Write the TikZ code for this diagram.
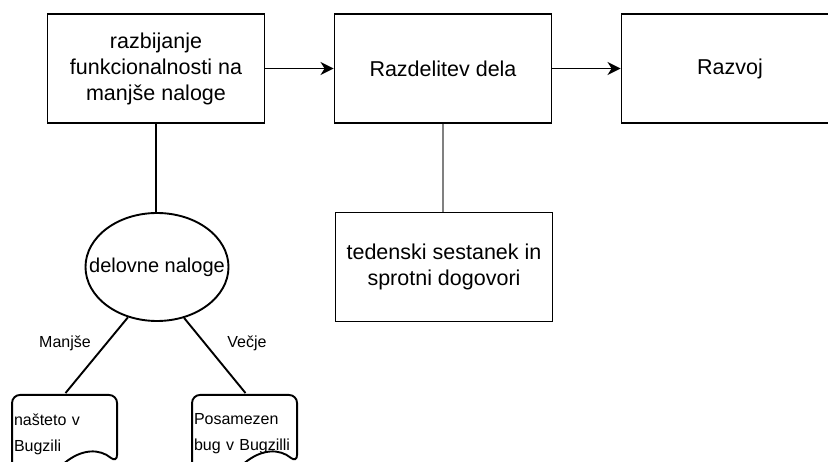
\documentclass[tikz,border=0pt]{standalone}
\usepackage{fontspec}
\setmainfont{Liberation Sans}
\usetikzlibrary{arrows.meta,shapes.geometric}
\begin{document}
\begin{tikzpicture}[x=1pt,y=-1pt,
  line width=1.9pt,
  box/.style={draw, rectangle, minimum width=217pt, minimum height=109pt,
    inner sep=2pt, align=center,
    font=\fontsize{21.5}{26}\selectfont},
  oval/.style={draw, ellipse, minimum width=143pt, minimum height=108pt,
    inner xsep=-22pt, inner ysep=0pt, font=\fontsize{20}{24}\selectfont},
  doctext/.style={rectangle, minimum width=105pt, minimum height=80pt,
    inner sep=1pt, text width=103pt, align=left,
    font=\fontsize{16}{26}\selectfont},
  doc/.style={draw},
  small/.style={font=\fontsize{16}{19}\selectfont},
  arr/.style={-{Stealth[length=13pt,width=13pt,inset=4pt]}}
]
\useasboundingbox (0,0) rectangle (828,462);

% main flow
\node[box] (b1) at (156,68.5) {razbijanje\\funkcionalnosti na\\manjše naloge};
\node[box] (b2) at (443,68.5) {Razdelitev dela};
\node[box] (b3) at (730,68.5) {Razvoj};
\draw[arr] (b1) -- (b2);
\draw[arr] (b2) -- (b3);

% weekly meeting under the work split
\node[box] (ted) at (444,267) {tedenski sestanek in\\sprotni dogovori};
\draw[gray] (b2.south) -- (b2.south |- ted.north);

% task kinds
\node[oval] (ell) at (157,267) {delovne naloge};
\draw (b1.south) -- (b1.south |- ell.north);

% two document shapes
\node[doctext] (d1) at (65.5,434) {našteto v\\Bugzili};
\node[doctext] (d2) at (245.5,434) {Posamezen\\bug v Bugzilli};
\foreach \d in {d1,d2}{
  \draw[doc, shift={(\d.south west)}]
    (0,-12) [rounded corners=8pt] -- (0,-80) -- (105,-80) -- (105,-12)
    [sharp corners] .. controls (87.5,-26.4) and (70,-26.4) .. (52.5,-12)
    .. controls (35,2.4) and (17.5,2.4) .. (0,-12) -- cycle;
}
\draw (ell.240) -- (d1.north);
\draw (ell.298) -- (d2.north);
\node[small] (lm) at (65,343) {Manjše};
\node[small] (lv) at (247,343) {Večje};
\end{tikzpicture}
\end{document}
